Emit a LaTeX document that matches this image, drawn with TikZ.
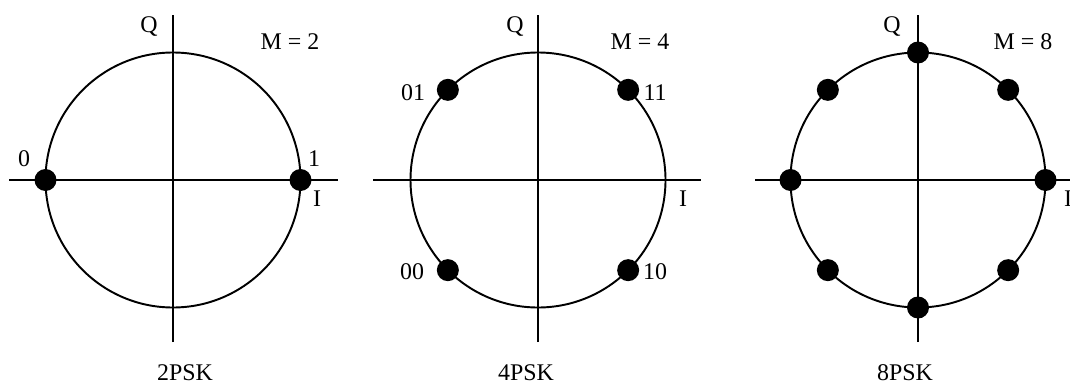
\documentclass[tikz,border=0pt]{standalone}
\usepackage{fontspec}
\setmainfont{Liberation Serif}
\usetikzlibrary{positioning,calc}
\def\wAxis{1.1pt}
\def\Rc{127.5}
\tikzset{
  plane/.style={x=0.02cm, y=0.02cm, font=\fontsize{13.6}{16}\selectfont},
  axis/.style={draw=black, line width=\wAxis},
  ring/.style={draw=black, line width=\wAxis},
  sym/.style={circle, fill=black, inner sep=0pt, minimum size=0.44cm},
  lbl/.style={inner sep=0pt},
}

\begin{document}
\begin{tikzpicture}[plane]
\useasboundingbox (0,0) rectangle (1070,383);
% 2PSK, centre (173,203)
\begin{scope}[shift={(173,203)}]
  \coordinate (aW) at (-164,0); \coordinate (aE) at (165,0);
  \coordinate (aS) at (0,-162); \coordinate (aN) at (0,165);
  \draw[axis] (aW) -- (aE);
  \draw[axis] (aS) -- (aN);
  \draw[ring] (0,0) circle (\Rc);
  \node[sym] (a0) at (180:\Rc) {};
  \node[sym] (a1) at (0:\Rc) {};
  \node[lbl] (aQ) at (-24,153) {Q};
  \node[lbl] (aI) at (144,-19) {I};
  \node[lbl] (aM) at (117,138) {M = 2};
  \node[lbl] (a0l) at (-149,21) {0};
  \node[lbl] (a1l) at (141,21) {1};
\end{scope}
% 4PSK, centre (538,203)
\begin{scope}[shift={(538,203)}]
  \coordinate (bW) at (-165,0); \coordinate (bE) at (163,0);
  \coordinate (bS) at (0,-162); \coordinate (bN) at (0,165);
  \draw[axis] (bW) -- (bE);
  \draw[axis] (bS) -- (bN);
  \draw[ring] (0,0) circle (\Rc);
  \foreach \a/\s in {45/11, 135/01, 225/00, 315/10}
    \node[sym] (b\s) at (\a:\Rc) {};
  \node[lbl] (bQ) at (-23,153) {Q};
  \node[lbl] (bI) at (145,-19) {I};
  \node[lbl] (bM) at (102,138) {M = 4};
  \node[lbl] (b01l) at (-125,87) {01};
  \node[lbl] (b11l) at (117,87) {11};
  \node[lbl] (b00l) at (-126,-92) {00};
  \node[lbl] (b10l) at (117,-92) {10};
\end{scope}
% 8PSK, centre (918,203)
\begin{scope}[shift={(918,203)}]
  \coordinate (cW) at (-163,0); \coordinate (cE) at (165,0);
  \coordinate (cS) at (0,-162); \coordinate (cN) at (0,165);
  \draw[axis] (cW) -- (cE);
  \draw[axis] (cS) -- (cN);
  \draw[ring] (0,0) circle (\Rc);
  \foreach \k in {0,...,7}
    \node[sym] (c\k) at (\k*45:\Rc) {};
  \node[lbl] (cQ) at (-26,153) {Q};
  \node[lbl] (cI) at (150,-19) {I};
  \node[lbl] (cM) at (105,138) {M = 8};
\end{scope}
% captions
\node[lbl] (t2) at (185,10.5) {2PSK};
\node[lbl] (t4) at (526,10.5) {4PSK};
\node[lbl] (t8) at (905,10.5) {8PSK};
\end{tikzpicture}
\end{document}
